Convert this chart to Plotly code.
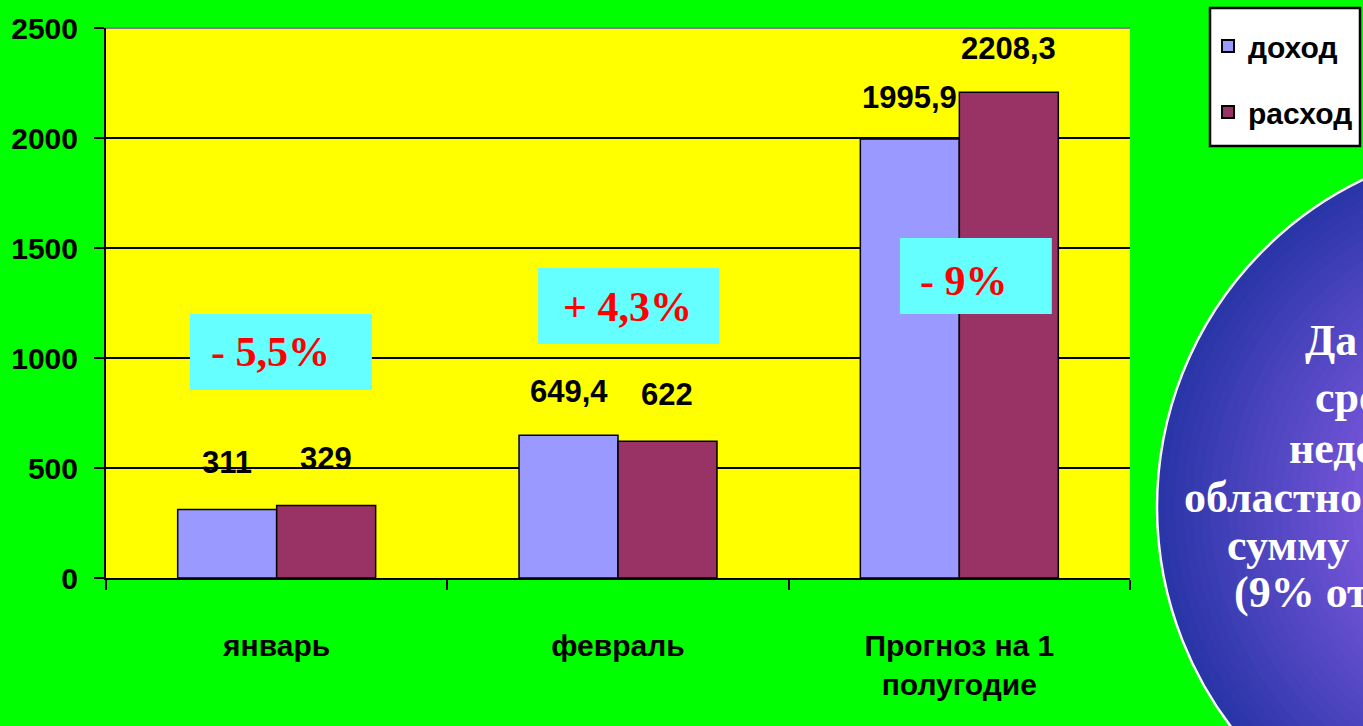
import plotly.graph_objects as go

# ---- data ----
categories = ["январь", "февраль", "Прогноз на 1<br>полугодие"]
dohod = [311, 649.4, 1995.9]
rashod = [329, 622, 2208.3]
dohod_labels = ["311", "649,4", "1995,9"]
rashod_labels = ["329", "622", "2208,3"]
series_names = ["доход", "расход"]
pct_texts = ["- 5,5%", "+ 4,3%", "- 9%"]
y_ticks = [0, 500, 1000, 1500, 2000, 2500]
circle_lines = ["Да", "сре", "недо", "областно", "сумму", "(9% от"]

# ---- layout helpers (pixel geometry of the slide) ----
W, H = 1363, 726
PL, PR, PT, PB = 106, 1130, 28, 578  # plot area in pixels


def px_x(px):
    return (px - PL) / (PR - PL)


def px_y(py):
    return (PB - py) / (PB - PT)


FONT = "Liberation Sans Narrow, Arial Narrow, Liberation Sans, Arial, sans-serif"
SERIF = "Liberation Serif, Times New Roman, serif"


def sans(size):
    return dict(family=FONT, size=size, color="#000000", weight="bold")


fig = go.Figure()
fig.add_trace(go.Bar(x=categories, y=dohod, name=series_names[0], legendgroup="a",
                     marker=dict(color="#9999FF", line=dict(color="#000000", width=1.5))))
fig.add_trace(go.Bar(x=categories, y=rashod, name=series_names[1], legendgroup="b",
                     marker=dict(color="#993366", line=dict(color="#000000", width=1.5))))

shapes = []
annotations = []

# value labels
label_y_d = [527, 850, 2186]
label_y_r = [541, 832, 2409]
for i in range(3):
    annotations.append(dict(x=i - 0.145, y=label_y_d[i], xref="x", yref="y", text=dohod_labels[i],
                            showarrow=False, font=sans(31), xanchor="center", yanchor="middle"))
    annotations.append(dict(x=i + 0.145, y=label_y_r[i], xref="x", yref="y", text=rashod_labels[i],
                            showarrow=False, font=sans(31), xanchor="center", yanchor="middle"))

# percent boxes
boxes = [(-0.254, 0.279, 855, 1200), (0.766, 1.296, 1064, 1409), (1.826, 2.271, 1200, 1545)]
pct_pos = [(-0.017, 1027), (1.029, 1232), (2.014, 1350)]
for (x0, x1, y0, y1), (tx, ty), t in zip(boxes, pct_pos, pct_texts):
    shapes.append(dict(type="rect", xref="x", yref="y", x0=x0, x1=x1, y0=y0, y1=y1,
                       fillcolor="#66FFFF", line=dict(width=0), layer="above"))
    annotations.append(dict(x=tx, y=ty, xref="x", yref="y", text="<b>" + t + "</b>", showarrow=False,
                            font=dict(family=SERIF, size=42, color="#FF0000"),
                            xanchor="center", yanchor="middle"))

# top border of plot area (grey)
shapes.append(dict(type="line", xref="paper", yref="paper", x0=0, x1=1, y0=1, y1=1,
                   line=dict(color="#808080", width=2), layer="above"))

# legend frame
shapes.append(dict(type="rect", xref="paper", yref="paper",
                   x0=px_x(1210), x1=px_x(1360), y0=px_y(146), y1=px_y(8),
                   fillcolor="#FFFFFF", line=dict(color="#000000", width=2.5), layer="above"))

# decorative circle with radial gradient (approximated by rings)
cx, cy, R = 1520, 507, 363
inner = 150
n = 24
c_out = (0x2A, 0x36, 0xA8)
c_in = (0x7A, 0x58, 0xDC)
for k in range(n + 1):
    r = R - (R - inner) * k / n
    t = k / n
    col = "rgb(%d,%d,%d)" % tuple(int(a + (b - a) * t) for a, b in zip(c_out, c_in))
    shapes.append(dict(type="circle", xref="paper", yref="paper",
                       x0=px_x(cx - r), x1=px_x(cx + r), y0=px_y(cy + r), y1=px_y(cy - r),
                       fillcolor=col,
                       line=dict(color="#FFFFFF" if k == 0 else col, width=2.5 if k == 0 else 0),
                       layer="above"))

circle_left = [1303, 1313, 1287, 1182, 1225, 1232]
circle_cy = [340, 397, 448, 497, 545, 592]
for txt, lx, ly in zip(circle_lines, circle_left, circle_cy):
    annotations.append(dict(x=px_x(lx), y=px_y(ly), xref="paper", yref="paper", text="<b>" + txt + "</b>",
                            showarrow=False, xanchor="left", yanchor="middle",
                            font=dict(family=SERIF, size=44, color="#FFFFFF")))

fig.update_layout(
    width=W, height=H,
    margin=dict(l=PL, r=W - PR, t=PT, b=H - PB, pad=0, autoexpand=False),
    paper_bgcolor="#00FF00", plot_bgcolor="#FFFF00",
    barmode="group", bargap=0.42, bargroupgap=0,
    font=sans(30),
    showlegend=True,
    legend=dict(x=px_x(1208), y=px_y(20), xanchor="left", yanchor="top", xref="paper", yref="paper",
                bgcolor="rgba(0,0,0,0)", borderwidth=0,
                font=sans(30), tracegroupgap=24, itemsizing="constant"),
    shapes=shapes, annotations=annotations,
    xaxis=dict(type="category", showline=True, linecolor="#000000", linewidth=2,
               ticks="outside", tickson="boundaries", ticklen=10, tickwidth=2, tickcolor="#000000",
               tickfont=sans(30), ticklabelstandoff=40,
               showgrid=False, range=[-0.5, 2.5]),
    yaxis=dict(range=[0, 2500], tickvals=y_ticks, showline=True, linecolor="#000000", linewidth=2,
               ticks="outside", ticklen=10, tickwidth=2, tickcolor="#000000",
               tickfont=sans(30), ticklabelstandoff=10,
               showgrid=True, gridcolor="#000000", gridwidth=2, zeroline=False,
               tickformat="d"),
)

fig.write_html("out.html", config={"displayModeBar": False},
               post_script="document.body.style.margin='0';document.body.style.overflow='hidden';")
